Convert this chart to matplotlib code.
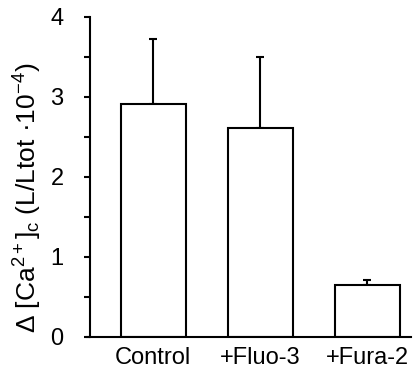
import matplotlib
matplotlib.use("Agg")
import matplotlib.pyplot as plt

plt.rcParams["font.family"] = ["Liberation Sans", "DejaVu Sans"]
plt.rcParams["mathtext.fontset"] = "custom"
plt.rcParams["mathtext.rm"] = "Liberation Sans"
plt.rcParams["mathtext.it"] = "Liberation Sans:italic"

groups = ["Control", "+Fluo-3", "+Fura-2"]
means = [2.91, 2.61, 0.65]
errors = [0.82, 0.89, 0.06]

fig = plt.figure(figsize=(4.13, 3.76), dpi=100)
ax = fig.add_axes([0.218, 0.104, 0.777, 0.851])

x = range(len(groups))
ax.bar(x, means, width=0.607, color="white", edgecolor="black", linewidth=1.5, zorder=2)
ax.errorbar(x, means, yerr=[[0] * len(errors), errors], fmt="none", ecolor="black",
            elinewidth=1.5, capsize=3, capthick=1.5, zorder=1)

ax.set_xlim(-0.589, 2.41)
ax.set_ylim(0, 4)
ax.set_xticks(list(x))
ax.set_xticklabels(groups, fontsize=17)
ax.set_yticks([0, 1, 2, 3, 4])
ax.set_yticks([0.5, 1.5, 2.5, 3.5], minor=True)
ax.tick_params(axis="y", which="both", direction="out", length=4, width=1.5, labelsize=17, pad=15)
ax.tick_params(axis="x", length=0, pad=7)

for s in ["top", "right"]:
    ax.spines[s].set_visible(False)
ax.spines["left"].set_linewidth(1.5)
ax.spines["bottom"].set_linewidth(1.5)
ax.spines["bottom"].set_bounds(-0.62, 2.41)

ax.set_ylabel("Δ [Ca$^{2+}$]$_{\\mathrm{c}}$ (L/Ltot ·10$^{-4}$)", fontsize=19)
ax.yaxis.set_label_coords(-0.145, 0.436)
ax.yaxis.label.set_va("bottom")

fig.savefig("out.png", dpi=100)
